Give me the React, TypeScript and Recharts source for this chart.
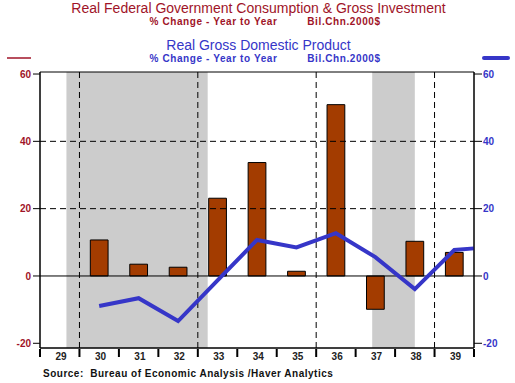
import { ComposedChart, Bar, Line, XAxis, YAxis, ReferenceLine, ReferenceArea } from 'recharts';

// fiscal years 1929..1939, position = start of the year on a numeric axis
const yearStarts = [29, 30, 31, 32, 33, 34, 35, 36, 37, 38, 39];
const yearLabels = ['29', '30', '31', '32', '33', '34', '35', '36', '37', '38', '39'];
// Real federal govt consumption & gross investment, % y/y
const fedChange = [null, 10.7, 3.5, 2.6, 23.1, 33.7, 1.4, 50.9, -9.9, 10.3, 7.0];
// Real GDP, % y/y
const gdpChange = [null, -8.9, -6.6, -13.4, -1.3, 10.7, 8.5, 12.7, 5.6, -3.9, 7.7];
const gdpLatest = 8.2;
// NBER recessions (fractional years)
const recessions = [
  [29.67, 33.25],
  [37.42, 38.5],
];
const yTicks = [-20, 0, 20, 40, 60];
const dashedYears = [30, 33, 36, 39];
const dashedLevels = [20, 40];

const RED = '#a01428';
const BLUE = '#3636c8';
const FONT = '"Liberation Sans", Arial, sans-serif';

const data: any[] = yearStarts.map((y, i) => ({
  x: y + 0.5,
  fed: fedChange[i],
  gdp: gdpChange[i],
}));
data.push({ x: 40, fed: null, gdp: gdpLatest });

const xTicks = [...yearStarts, 40];

const YearTick = (props: any) => {
  const { x, y, payload } = props;
  const idx = yearStarts.indexOf(payload.value);
  return (
    <g>
      <line x1={x} x2={x} y1={y + 1} y2={y + 9} stroke="#000" strokeWidth={2} />
      {idx >= 0 && (
        <text x={x + 21} y={y + 12} textAnchor="middle" fontSize={10} fontWeight="bold" fill="#222" fontFamily={FONT}>
          {yearLabels[idx]}
        </text>
      )}
    </g>
  );
};

export default function App() {
  return (
    <div style={{ position: 'absolute', left: 0, top: 0, width: 515, height: 383, background: '#fff', fontFamily: FONT }}>
      <ComposedChart width={515} height={383} data={data} margin={{ top: 72, right: 0, bottom: 0, left: 0 }}>
        <XAxis
          dataKey="x"
          type="number"
          domain={[29, 40]}
          ticks={xTicks}
          interval={0}
          tickSize={0}
          tickMargin={0}
          tick={<YearTick />}
          height={35}
          axisLine={{ stroke: '#000' }}
          tickLine={false}
        />
        <YAxis
          yAxisId="left"
          domain={[-21.4, 60.6]}
          ticks={yTicks}
          allowDataOverflow
          width={40}
          tickSize={7}
          tickMargin={2}
          axisLine={{ stroke: '#000' }}
          tickLine={{ stroke: '#000' }}
          tick={{ fill: RED, fontSize: 10, fontWeight: 'bold', fontFamily: FONT }}
        />
        <YAxis
          yAxisId="right"
          orientation="right"
          domain={[-21.4, 60.6]}
          ticks={yTicks}
          allowDataOverflow
          width={41}
          tickSize={8}
          tickMargin={1}
          axisLine={{ stroke: '#000' }}
          tickLine={{ stroke: '#000' }}
          tick={{ fill: BLUE, fontSize: 10, fontWeight: 'bold', fontFamily: FONT }}
        />
        {recessions.map(([a, b]) => (
          <ReferenceArea key={a} yAxisId="left" x1={a} x2={b} y1={-21.4} y2={60.6} fill="#cccccc" fillOpacity={1} stroke="none" />
        ))}
        {dashedLevels.map((v) => (
          <ReferenceLine key={'h' + v} yAxisId="left" y={v} stroke="#000" strokeDasharray="6 4" />
        ))}
        {dashedYears.map((v) => (
          <ReferenceLine key={'v' + v} yAxisId="left" x={v} stroke="#000" strokeDasharray="6 4" />
        ))}
        <ReferenceLine yAxisId="left" y={0} stroke="#000" />
        <Bar yAxisId="left" dataKey="fed" fill="#a33c00" stroke="#000" strokeWidth={1} barSize={25} isAnimationActive={false} />
        <Line yAxisId="right" dataKey="gdp" type="linear" stroke={BLUE} strokeWidth={4} dot={false} connectNulls isAnimationActive={false} />
        <ReferenceArea yAxisId="left" x1={29} x2={40} y1={-21.4} y2={60.6} fill="none" stroke="#000" />
      </ComposedChart>
      <svg width={515} height={383} style={{ position: 'absolute', left: 0, top: 0, pointerEvents: 'none' }}>
        <g fontFamily={FONT} textAnchor="middle">
          <text x={258.5} y={13} fontSize={14} fill={RED}>
            Real Federal Government Consumption &amp; Gross Investment
          </text>
          <text x={213.5} y={24.5} fontSize={10} fontWeight="bold" letterSpacing={0.6} fill={RED}>% Change - Year to Year</text>
          <text x={344} y={24.5} fontSize={10} fontWeight="bold" letterSpacing={0.6} fill={RED}>Bil.Chn.2000$</text>
          <text x={258.5} y={50} fontSize={14} fill={BLUE}>Real Gross Domestic Product</text>
          <text x={213.5} y={62} fontSize={10} fontWeight="bold" letterSpacing={0.6} fill={BLUE}>% Change - Year to Year</text>
          <text x={344} y={62} fontSize={10} fontWeight="bold" letterSpacing={0.6} fill={BLUE}>Bil.Chn.2000$</text>
          <text x={43} y={377} fontSize={10} fontWeight="bold" letterSpacing={0.5} fill="#111" textAnchor="start" xmlSpace="preserve">
            Source:  Bureau of Economic Analysis /Haver Analytics
          </text>
        </g>
        <line x1={7} x2={31} y1={58} y2={58} stroke={RED} strokeWidth={1.5} />
        <line x1={484} x2={508} y1={58} y2={58} stroke={BLUE} strokeWidth={4} strokeLinecap="round" />
      </svg>
    </div>
  );
}
